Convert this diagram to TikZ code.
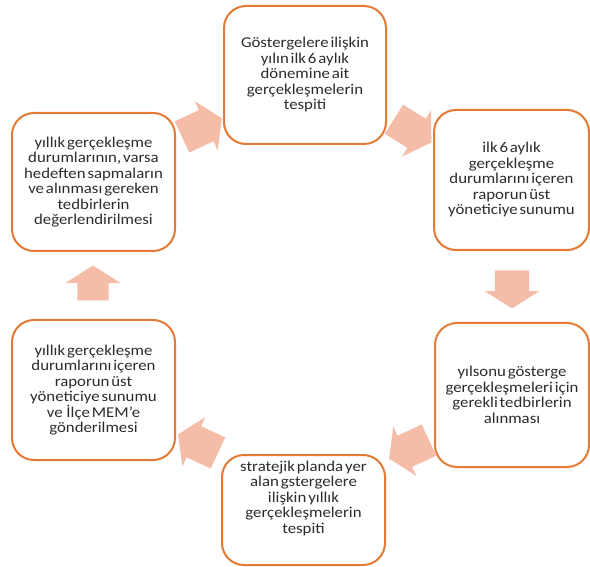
\documentclass[tikz,border=0pt]{standalone}
\usepackage{fontspec}
\setmainfont{Carlito}[FakeStretch=1.12, WordSpace=0.5]
\usetikzlibrary{shapes.arrows, positioning}

\definecolor{boxline}{RGB}{228,122,52}
\definecolor{arrowfill}{RGB}{245,188,168}
\definecolor{boxtext}{RGB}{44,44,44}

\begin{document}
\begin{tikzpicture}[x=1pt, y=-1pt,
        stepbox/.style={draw=boxline, line width=2pt, rounded corners=22pt,
            minimum width=162pt, minimum height=138pt, inner sep=0pt,
            text=boxtext, align=center, font=\fontsize{15}{15.5}\selectfont},
        steptext/.style={text=boxtext, align=center, inner sep=0pt,
            font=\fontsize{15}{15.5}\selectfont},
        blockarrow/.style={single arrow, fill=arrowfill, draw=none,
            inner xsep=0pt, inner ysep=17pt, minimum height=44pt,
            single arrow head extend=10pt, single arrow tip angle=115}]
    \useasboundingbox (0,0) rectangle (590,567);

    % the six steps
    \node[stepbox] (first) at (305,75)
        {Göstergelere ilişkin\\yılın ilk 6 aylık\\dönemine ait\\gerçekleşmelerin\\tespiti};
    \node[stepbox, minimum width=155pt, minimum height=140pt] (report) at (511.5,180)
        {ilk 6 aylık\\gerçekleşme\\durumlarını içeren\\raporun üst\\yöneticiye sunumu};
    \node[stepbox, minimum width=154pt, minimum height=144pt] (measures) at (512,395)
        {yılsonu gösterge\\gerçekleşmeleri için\\gerekli tedbirlerin\\alınması};
    \node[stepbox, minimum width=163pt, minimum height=110pt] (annual) at (303.5,510) {};
    \node[steptext] (annualtext) at (303.5,498)
        {stratejik planda yer\\alan gstergelere\\ilişkin yıllık\\gerçekleşmelerin\\tespiti};
    \node[stepbox, minimum width=163pt, minimum height=140pt] (send) at (93.5,390)
        {yıllık gerçekleşme\\durumlarını içeren\\raporun üst\\yöneticiye sunumu\\ve \ İlçe MEM'e\\gönderilmesi};
    \node[stepbox, minimum width=163pt] (review) at (93.5,182)
        {yıllık gerçekleşme\\durumlarının, varsa\\hedeften sapmaların\\ve alınması gereken\\tedbirlerin\\değerlendirilmesi};

    % block arrows between the steps
    \node[blockarrow, rotate=25] (arrowA) at (197,130) {};
    \node[blockarrow, rotate=-32] (arrowB) at (408,128) {};
    \node[blockarrow, rotate=-90, minimum height=38pt] (arrowC) at (512,284) {};
    \node[blockarrow, rotate=205] (arrowD) at (414,447) {};
    \node[blockarrow, rotate=155] (arrowE) at (203,446) {};
    \node[blockarrow, rotate=90, minimum height=35pt, inner ysep=15.5pt,
        single arrow head extend=12pt] (arrowF) at (93,288) {};
\end{tikzpicture}
\end{document}
